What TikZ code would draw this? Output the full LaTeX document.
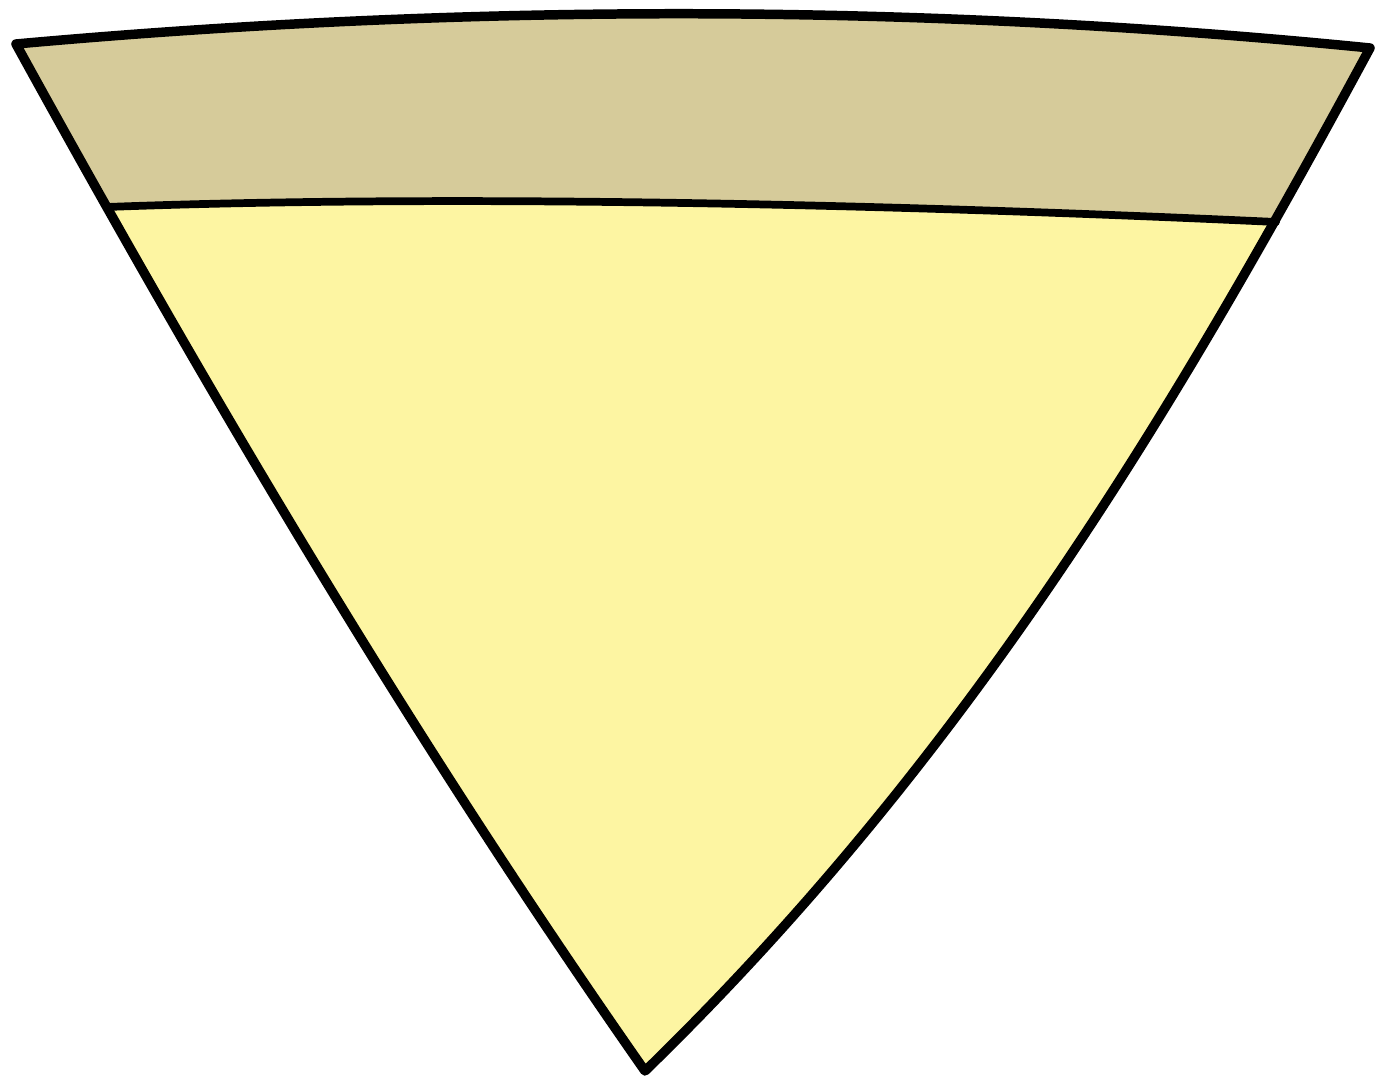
\documentclass[tikz,border=0pt]{standalone}
\definecolor{crust}{RGB}{214,203,154}
\definecolor{cheese}{RGB}{253,245,162}
\tikzset{outline/.style={draw=black,line width=5.4pt,line join=round,line cap=round}}
\begin{document}
\begin{tikzpicture}[x=0.02cm,y=-0.02cm]
\useasboundingbox (0,0) rectangle (1379,1081);
\coordinate (TL) at (16,44);
\coordinate (TR) at (1370,48);
\coordinate (tip) at (645,1071);
\coordinate (CL) at (107,207);
\coordinate (CR) at (1276,222);
\def\slice{(TL) .. controls (470,3) and (920,3) .. (TR) .. controls (1181,398) and (975,750) .. (tip) .. controls (407,731) and (203,384) .. (TL) -- cycle}
\fill[cheese] \slice;
\begin{scope}
\clip \slice;
\fill[crust] (0,0) -- (0,207) -- (CL) .. controls (400,196) and (800,200) .. (CR) -- (1379,222) -- (1379,0) -- cycle;
\end{scope}
\draw[outline,line width=4.4pt] (CL) .. controls (400,196) and (800,200) .. (CR);
\draw[outline] \slice;
\end{tikzpicture}
\end{document}
